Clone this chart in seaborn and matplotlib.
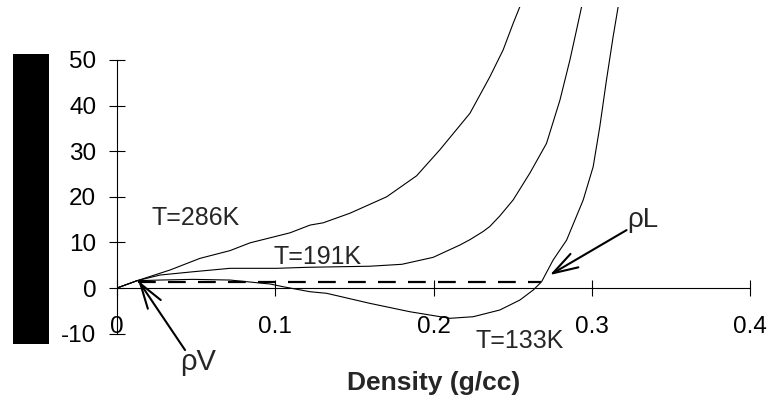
import numpy as np
import pandas as pd
import seaborn as sns
import matplotlib
matplotlib.use("Agg")
import matplotlib.pyplot as plt
from matplotlib.patches import Rectangle

# ---- data ----
x_286 = [0.0, 0.0126, 0.0335, 0.0524, 0.0714, 0.084, 0.1093, 0.122, 0.1303, 0.1472,
         0.1704, 0.1893, 0.204, 0.223, 0.2356, 0.244, 0.2503, 0.2546]
y_286 = [0.0, 1.6, 3.95, 6.5, 8.2, 9.9, 12.1, 13.8, 14.3, 16.4,
         20.0, 24.6, 30.3, 38.3, 46.3, 52.2, 58.0, 61.7]

x_191 = [0.0, 0.0126, 0.0272, 0.0482, 0.0714, 0.1009, 0.1198, 0.1598, 0.18, 0.1998,
         0.2167, 0.223, 0.2314, 0.2356, 0.2419, 0.2503, 0.2609, 0.2714, 0.2799,
         0.2862, 0.2904, 0.2936]
y_191 = [0.0, 1.6, 2.85, 3.57, 4.32, 4.32, 4.54, 4.78, 5.2, 6.73,
         9.43, 10.6, 12.4, 13.5, 15.8, 19.3, 25.2, 31.7, 41.2,
         50.0, 56.6, 61.7]

x_133 = [0.0, 0.0126, 0.0272, 0.0482, 0.0714, 0.0967, 0.1049, 0.1219, 0.1325, 0.1598,
         0.1851, 0.2104, 0.2251, 0.2419, 0.2546, 0.263, 0.2683, 0.2756, 0.2841,
         0.2946, 0.3009, 0.3051, 0.3093, 0.3135, 0.3167]
y_133 = [0.0, 1.6, 1.75, 1.9, 1.75, 0.88, 0.29, -0.81, -1.16, -3.36,
         -5.2, -6.64, -6.29, -4.82, -2.63, -0.44, 1.38, 6.14, 10.5,
         19.3, 26.6, 35.4, 45.6, 55.1, 61.7]

tie_x = [0.013, 0.268]
tie_y = [1.3, 1.3]

x_ticks = [0, 0.1, 0.2, 0.3, 0.4]
x_tick_labels = ["0", "0.1", "0.2", "0.3", "0.4"]
y_ticks = [-10, 0, 10, 20, 30, 40, 50]
x_label = "Density (g/cc)"

curve_labels = ["T=286K", "T=191K", "T=133K"]

# ---- build long-form table ----
df = pd.concat([
    pd.DataFrame({"rho": x_286, "P": y_286, "T": curve_labels[0]}),
    pd.DataFrame({"rho": x_191, "P": y_191, "T": curve_labels[1]}),
    pd.DataFrame({"rho": x_133, "P": y_133, "T": curve_labels[2]}),
], ignore_index=True)
tie = pd.DataFrame({"rho": tie_x, "P": tie_y})

sns.set_style("white")
plt.rcParams["font.family"] = ["Liberation Sans", "DejaVu Sans"]
plt.rcParams["axes.unicode_minus"] = False

fig = plt.figure(figsize=(7.72, 4.01), dpi=100)
ax = fig.add_axes([117 / 772, 0.168, 633 / 772, 0.8155])

sns.lineplot(data=df, x="rho", y="P", hue="T", units="T", estimator=None, sort=False,
             palette={k: "black" for k in curve_labels}, linewidth=0.8, legend=False, ax=ax)
sns.lineplot(data=tie, x="rho", y="P", color="black", linewidth=1.6, ax=ax,
             linestyle=(0, (8, 5.5)))

ax.set_xlim(0, 0.4)
ax.set_ylim(-10, 61.7)

for s in ["top", "right"]:
    ax.spines[s].set_visible(False)
ax.spines["bottom"].set_position(("data", 0))
ax.spines["left"].set_bounds(-10, 50)
ax.spines["bottom"].set_bounds(0, 0.4)
for s in ["left", "bottom"]:
    ax.spines[s].set_color("black")
    ax.spines[s].set_linewidth(0.8)

ax.set_xticks(x_ticks)
ax.set_xticklabels(x_tick_labels)
ax.set_yticks(y_ticks)
ax.tick_params(axis="both", which="major", bottom=True, left=True, top=False, right=False,
               direction="inout", length=12, width=0.8, color="black",
               labelsize=17.5, labelcolor="black")
ax.tick_params(axis="x", pad=14.5)
ax.tick_params(axis="y", pad=9)
ax.set_xlabel("")
ax.set_ylabel("")

fig.text(117 / 772 + 0.5 * 633 / 772, (401 - 383) / 401, x_label, ha="center", va="center",
         fontsize=19, fontweight="bold")

# curve labels
ax.text(0.0499, 15.46, curve_labels[0], ha="center", va="center", fontsize=18)
ax.text(0.127, 6.86, curve_labels[1], ha="center", va="center", fontsize=18)
ax.text(0.2546, -11.6, curve_labels[2], ha="center", va="center", fontsize=18)

# arrows
arrow_kw = dict(arrowstyle="->,head_length=0.9,head_width=0.28",
                lw=1.5, color="black", shrinkA=0, shrinkB=0, mutation_scale=20)
ax.annotate("", xy=(0.0135, 1.6), xytext=(0.043, -13.6), arrowprops=arrow_kw)
ax.annotate("", xy=(0.2735, 2.85), xytext=(0.322, 12.7), arrowprops=arrow_kw)
ax.text(0.0398, -18.0, "ρV", ha="left", va="baseline", fontsize=21)
ax.text(0.3222, 13.4, "ρL", ha="left", va="baseline", fontsize=20)

# black block on the left
fig.patches.append(Rectangle((13 / 772, (401 - 344) / 401), 36 / 772, 290 / 401,
                             transform=fig.transFigure, facecolor="black",
                             edgecolor="none", figure=fig))

fig.savefig("out.png", dpi=100)
